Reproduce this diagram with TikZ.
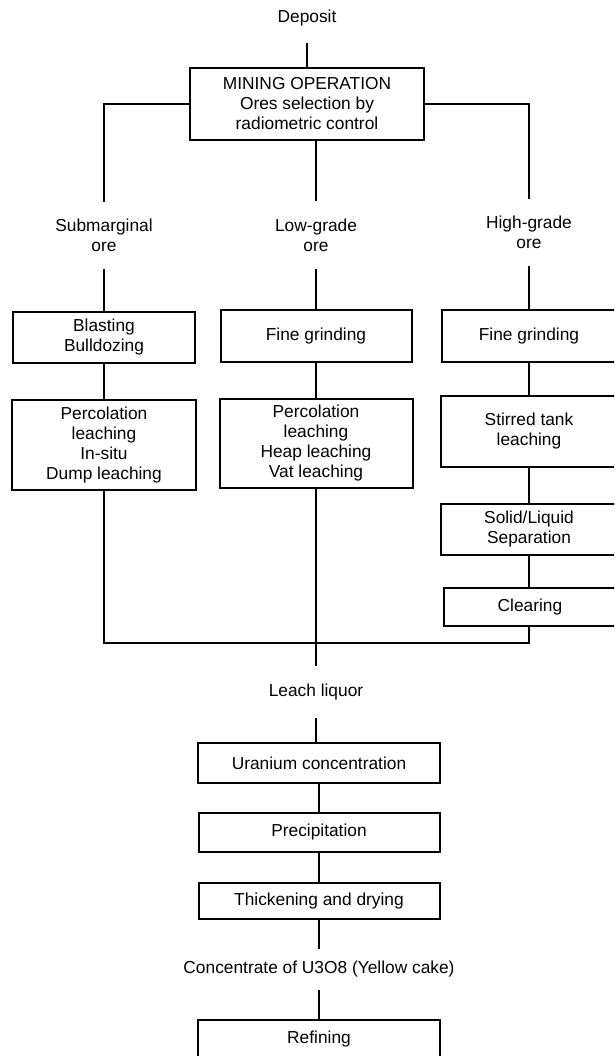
\documentclass[tikz,border=0pt]{standalone}
\usepackage{fontspec}
\setmainfont{Liberation Sans}

\begin{document}
\begin{tikzpicture}[x=0.75pt,y=-0.75pt,line width=1.5pt,
    font=\fontsize{13}{15}\selectfont,
    box/.style={draw,align=center,inner sep=0pt},
    lbl/.style={align=center,inner sep=0pt}]
  \useasboundingbox (0,0) rectangle (614,1056);
  \clip (0,0) rectangle (614,1056);
  % Mining
  \node[lbl,minimum height=36pt] (dep) at (307,18) {Deposit};
  \node[box,minimum width=175.5pt,minimum height=54pt] (mine) at (307,104)
    {MINING OPERATION\\Ores selection by\\radiometric control};
  % Submarginal ore
  \node[lbl,minimum height=48.75pt] (sub) at (104,235) {Submarginal\\ore};
  \node[box,minimum width=136.5pt,minimum height=38.25pt] (blast) at (104,337.5)
    {Blasting\\Bulldozing};
  \node[box,minimum width=138pt,minimum height=67.5pt] (percL) at (104,445)
    {Percolation\\leaching\\In-situ\\Dump leaching};
  % Low-grade ore
  \node[lbl,minimum height=49.5pt] (low) at (316,235) {Low-grade\\ore};
  \node[box,minimum width=143.25pt,minimum height=39pt] (fineM) at (316,336) {Fine grinding};
  \node[box,minimum width=144.75pt,minimum height=66.75pt] (percM) at (316,443.5)
    {Percolation\\leaching\\Heap leaching\\Vat leaching};
  % High-grade ore
  \node[lbl,minimum height=48.75pt] (high) at (529,232.5) {High-grade\\ore};
  \node[box,minimum width=130.5pt,minimum height=39pt] (fineR) at (529,336) {Fine grinding};
  \node[box,minimum width=132pt,minimum height=53.25pt] (stir) at (529,431.5)
    {Stirred tank\\leaching};
  \node[box,minimum width=132pt,minimum height=38.25pt] (sep) at (529,529.5)
    {Solid/Liquid\\Separation};
  \node[box,minimum width=129pt,minimum height=28.5pt] (clear) at (530,607) {Clearing};
  % Leach liquor and after
  \coordinate (merge) at (316,643);
  \node[lbl,minimum height=37.5pt] (leach) at (316,692) {Leach liquor};
  \node[box,minimum width=181.5pt,minimum height=30pt] (uran) at (319,763) {Uranium concentration};
  \node[box,minimum width=180.75pt,minimum height=29.25pt] (prec) at (319,832.5) {Precipitation};
  \node[box,minimum width=180.75pt,minimum height=27pt] (thick) at (319,901) {Thickening and drying};
  \node[lbl,minimum height=29.25pt] (conc) at (319,969.5) {Concentrate of U3O8 (Yellow cake)};
  \node[box,minimum width=181.5pt,minimum height=28.5pt] (refi) at (319,1039) {Refining};

  \draw (dep) -- (mine);
  \draw (mine.west) -| (sub.north);
  \draw (mine.east) -| (high.north);
  \draw (mine.south -| low) -- (low);
  \draw (sub) -- (blast);
  \draw (blast) -- (percL);
  \draw (low) -- (fineM);
  \draw (fineM) -- (percM);
  \draw (high) -- (fineR);
  \draw (fineR) -- (stir);
  \draw (stir) -- (sep);
  \draw (sep) -- (sep |- clear.north);
  \draw (percL.south) |- (merge) -| (sep |- clear.south);
  \draw (percM) -- (leach);
  \draw (leach) -- (leach |- uran.north);
  \draw (uran) -- (prec);
  \draw (prec) -- (thick);
  \draw (thick) -- (conc);
  \draw (conc) -- (refi);
\end{tikzpicture}
\end{document}
